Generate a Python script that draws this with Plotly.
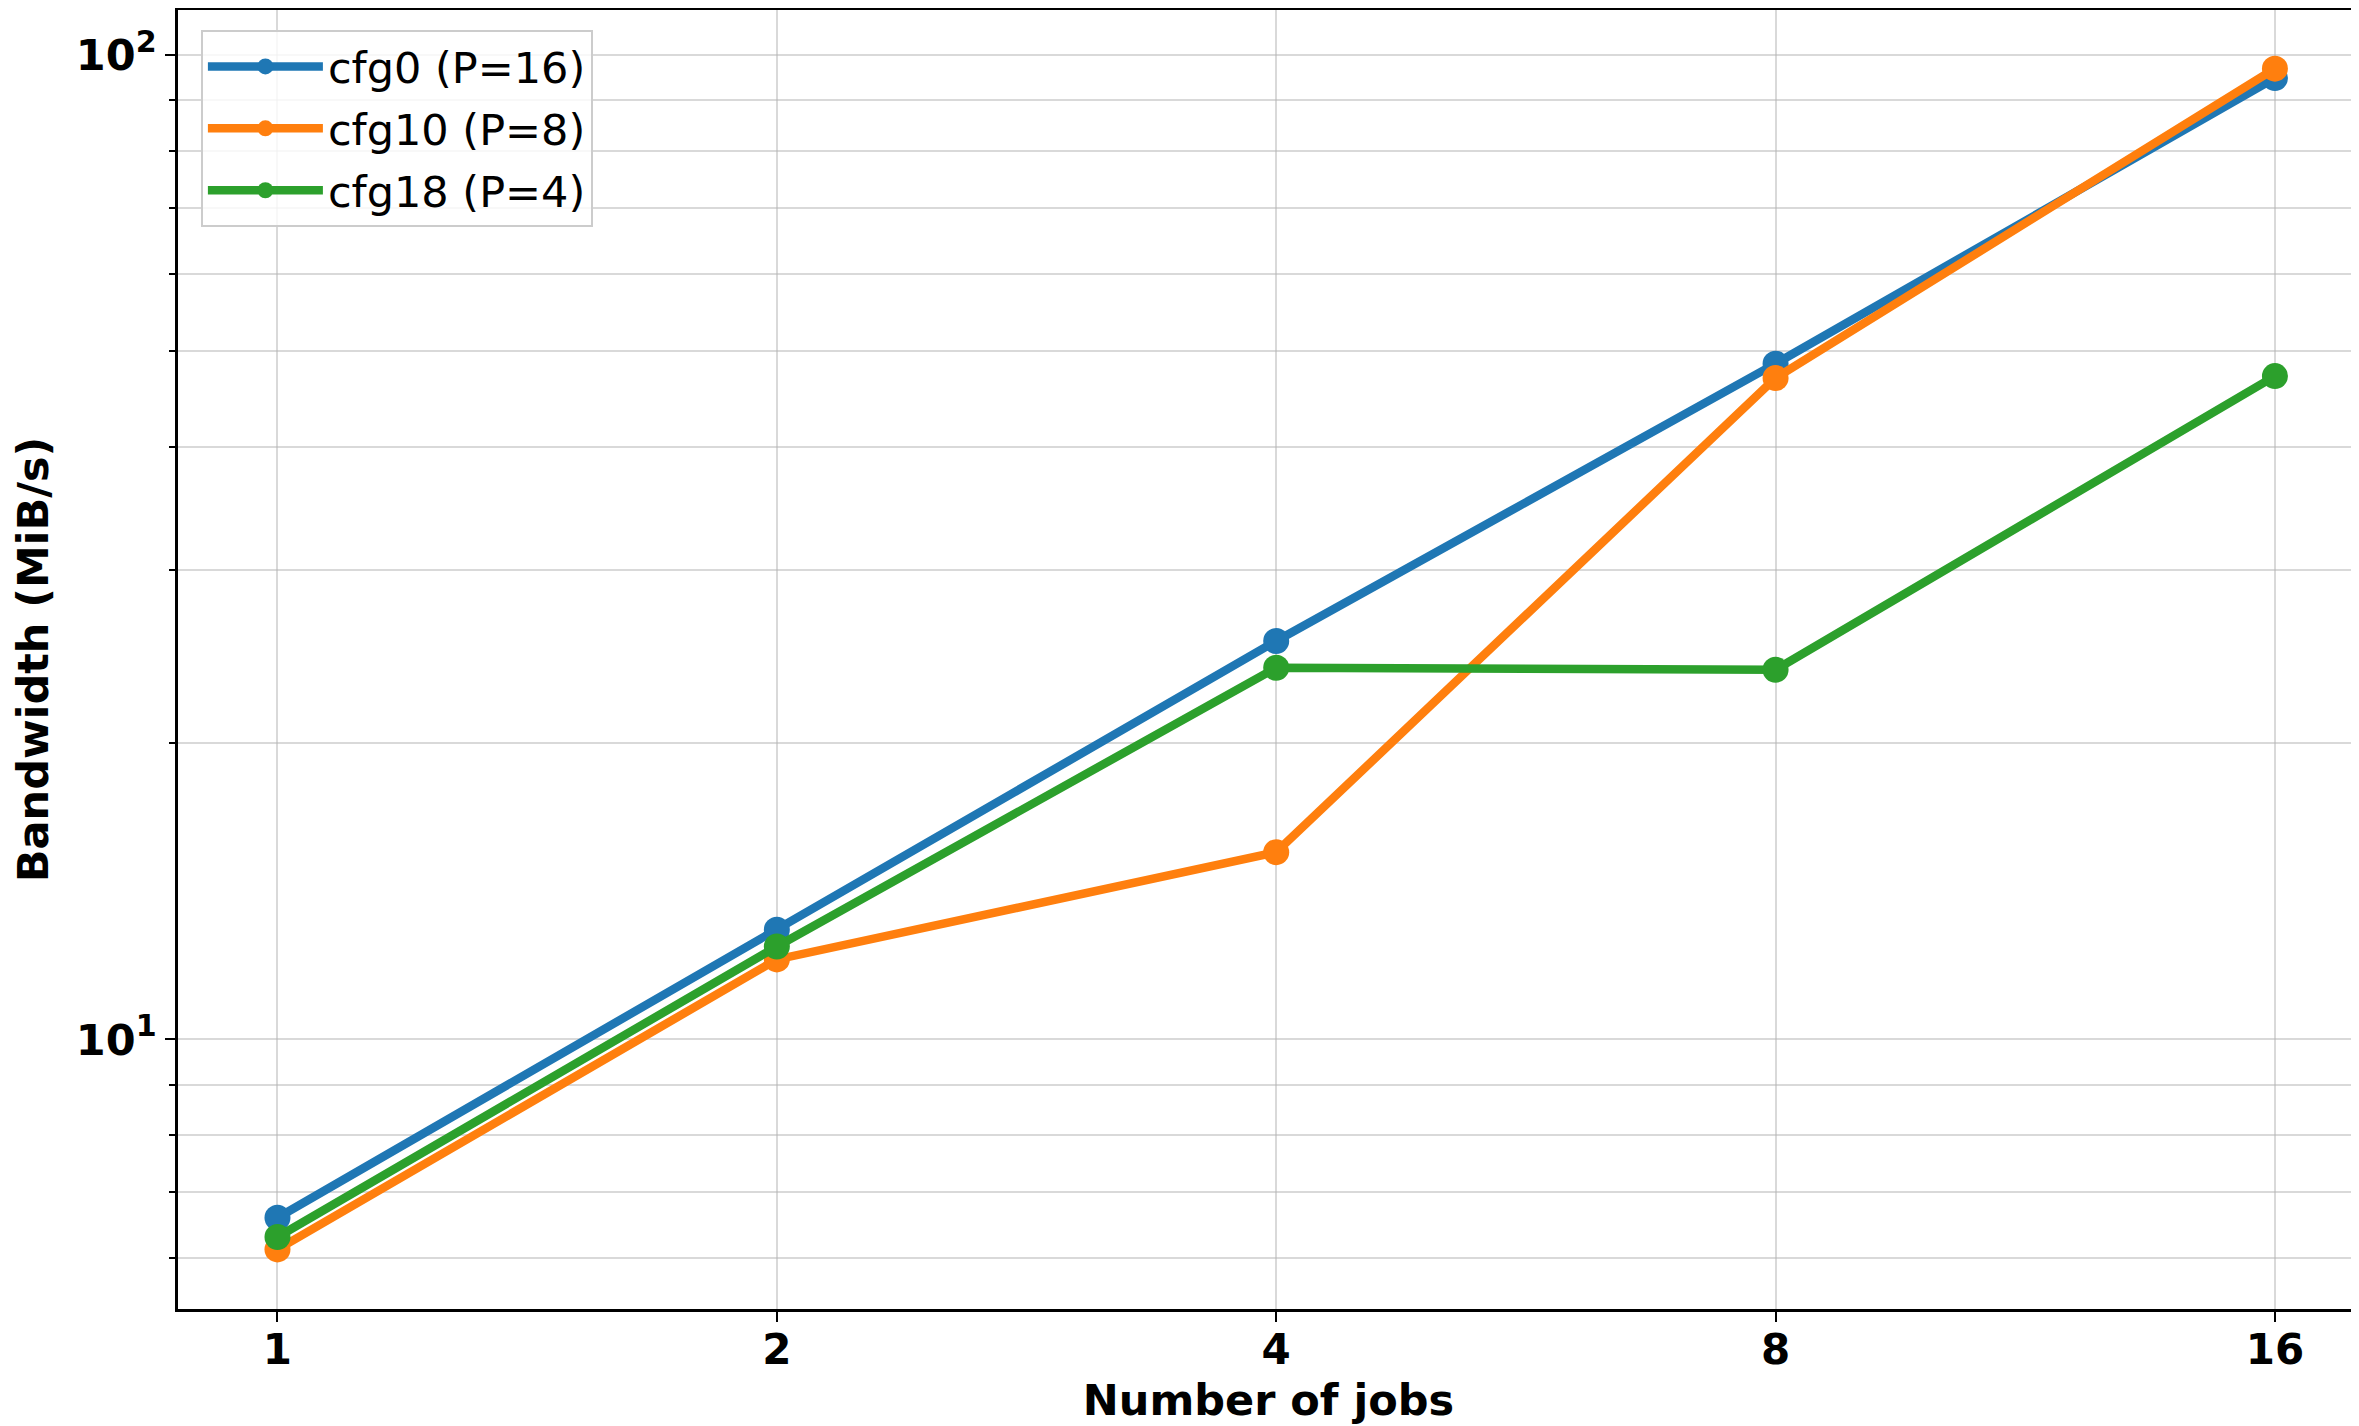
import math
import plotly.graph_objects as go

jobs = [1, 2, 4, 8, 16]
series_names = ["cfg0 (P=16)", "cfg10 (P=8)", "cfg18 (P=4)"]
cfg0_bw = [6.59, 12.93, 25.4, 48.6, 94.8]
cfg10_bw = [6.12, 12.06, 15.5, 47.0, 96.9]
cfg18_bw = [6.30, 12.43, 23.86, 23.75, 47.2]
colors = ["#1f77b4", "#ff7f0e", "#2ca02c"]

x_tick_vals = [1, 2, 4, 8, 16]
x_tick_text = ["1", "2", "4", "8", "16"]
y_tick_vals = [10, 100]
y_tick_text = ["10<sup>1</sup>", "10<sup>2</sup>"]
y_minor_vals = [6, 7, 8, 9, 20, 30, 40, 50, 60, 70, 80, 90]

fig = go.Figure()
for i, (name, vals) in enumerate(zip(series_names, [cfg0_bw, cfg10_bw, cfg18_bw])):
    fig.add_trace(go.Scatter(
        x=jobs, y=vals, name=name, mode="lines+markers",
        line=dict(color=colors[i], width=8.5),
        marker=dict(color=colors[i], size=26),
        legendgroup=f"g{i}",
    ))

grid_col = "rgba(180,180,180,0.5)"
fig.update_layout(
    width=2351, height=1418, autosize=False,
    margin=dict(l=170, r=0, t=2, b=117),
    paper_bgcolor="white", plot_bgcolor="white",
    font=dict(family="DejaVu Sans", color="black"),
    showlegend=True,
    legend=dict(
        x=0.0105, y=0.9846, xanchor="left", yanchor="top",
        bgcolor="rgba(255,255,255,0.8)", bordercolor="#cccccc", borderwidth=2,
        font=dict(family="DejaVu Sans", size=43, color="black"),
        tracegroupgap=3, itemwidth=115,
    ),
    xaxis=dict(
        type="log", range=[-0.05997, 1.2548],
        tickvals=x_tick_vals, ticktext=x_tick_text,
        ticks="outside", ticklen=10, tickwidth=2, tickcolor="black",
        ticklabelstandoff=-8,
        tickfont=dict(family="DejaVu Sans", size=42, weight="bold"),
        showline=True, linecolor="black", linewidth=2.5, mirror=True,
        showgrid=True, gridcolor=grid_col, gridwidth=2,
        zeroline=False,
        title=dict(text="Number of jobs", standoff=12,
                   font=dict(family="DejaVu Sans", size=43, weight="bold")),
    ),
    yaxis=dict(
        type="log", range=[0.7262, 2.0459],
        tickvals=y_tick_vals, ticktext=y_tick_text,
        ticks="outside", ticklen=10, tickwidth=2, tickcolor="black",
        tickfont=dict(family="DejaVu Sans", size=43, weight="bold"),
        showline=True, linecolor="black", linewidth=2.5, mirror=False,
        showgrid=True, gridcolor=grid_col, gridwidth=2,
        minor=dict(tickvals=y_minor_vals, ticks="outside", ticklen=6, tickwidth=1.5,
                   tickcolor="black", showgrid=True, gridcolor=grid_col, gridwidth=2),
        zeroline=False,
        title=dict(text="Bandwidth (MiB/s)", standoff=18,
                   font=dict(family="DejaVu Sans", size=43, weight="bold")),
    ),
)

fig.write_html("out.html")
